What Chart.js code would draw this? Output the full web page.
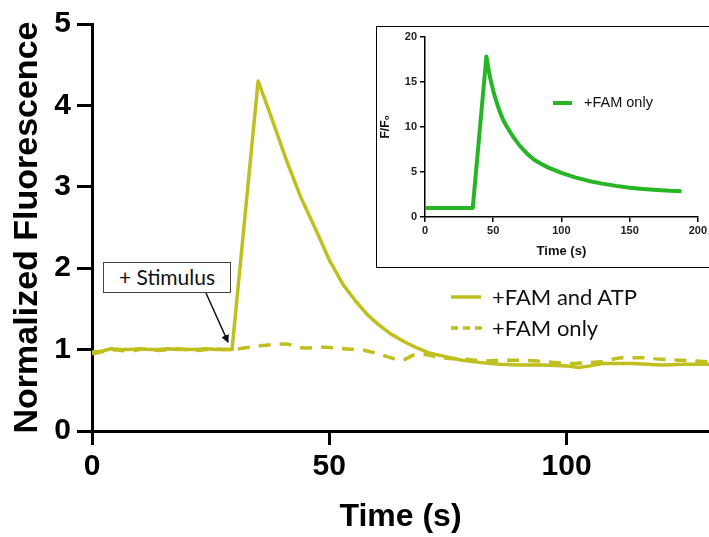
<!DOCTYPE html>
<html>
<head>
<meta charset="utf-8">
<script src="https://cdn.jsdelivr.net/npm/chart.js@4.4.1/dist/chart.umd.min.js"></script>
<style>
  html,body{margin:0;padding:0;background:#fff;}
  #wrap{position:relative;width:709px;height:537px;overflow:hidden;background:#fff;}
  #main{position:absolute;left:0;top:0;}
  #insetBox{position:absolute;left:376px;top:26px;width:333px;height:242px;border:1px solid #000;border-right:none;box-sizing:border-box;background:#fff;}
  #ins{position:absolute;left:0;top:0;}
  .lg{position:absolute;font-family:Lato,"Open Sans",sans-serif;font-size:22px;color:#111;white-space:nowrap;line-height:26px;}
  #stim{position:absolute;left:103px;top:262px;width:128px;height:31px;border:1px solid #444;box-sizing:border-box;background:#fff;font-family:Lato,"Open Sans",sans-serif;font-size:21px;line-height:28px;text-align:center;color:#111;white-space:nowrap;}
  svg{position:absolute;left:0;top:0;}
</style>
</head>
<body>
<div id="wrap">
  <canvas id="main" width="709" height="537"></canvas>
  <div id="insetBox"><canvas id="ins" width="332" height="240"></canvas></div>
  <svg width="709" height="537" style="pointer-events:none">
    <defs>
      <marker id="ah" markerWidth="8" markerHeight="8" refX="7" refY="4" orient="auto" markerUnits="userSpaceOnUse">
        <path d="M0,0 L8,4 L0,8 z" fill="#111"/>
      </marker>
    </defs>
    <line x1="206" y1="293" x2="228" y2="342" stroke="#111" stroke-width="1.5" marker-end="url(#ah)"/>
    <line x1="451" y1="297" x2="481" y2="297" stroke="#bfbf20" stroke-width="3.5"/>
    <line x1="451" y1="328" x2="483" y2="328" stroke="#bfbf20" stroke-width="3.5" stroke-dasharray="7,5"/>
  </svg>
  <div id="stim">+ Stimulus</div>
  <div class="lg" style="left:492px;top:284px;">+FAM and ATP</div>
  <div class="lg" style="left:492px;top:315px;">+FAM only</div>
</div>
<script>
// ---------- Main chart data ----------
const atpTimes = [0,2,4,6,8,10,12,14,16,18,20,22,24,26,28,29.5,35,38,41,44,47.5,50,53,55.5,58,60.5,63,66,68.5,71,74,78,82,86,90,95,100,102.5,105,107.5,110,114,117,120,125,130];
const atpValues = [0.97,0.98,1.01,1.0,1.0,1.01,1.0,1.0,1.01,1.0,1.0,1.0,1.01,1.0,1.0,1.0,4.3,3.82,3.32,2.87,2.43,2.1,1.79,1.6,1.43,1.3,1.19,1.09,1.02,0.96,0.92,0.87,0.84,0.82,0.81,0.81,0.8,0.78,0.8,0.83,0.83,0.83,0.82,0.81,0.82,0.82];

const famTimes = [0,2,4,6,8,10,12,14,16,18,20,22,24,26,28,29.5,32,36,40.6,44.8,49,53,57.5,61.8,65.2,67.7,70,73.6,78.7,83,86,90.5,95.6,101.5,104,107.4,111.7,116,120,124.4,130];
const famValues = [0.95,0.97,1.0,0.99,0.98,1.0,1.01,0.99,1.0,1.01,1.0,0.99,1.0,1.01,1.0,1.0,1.02,1.05,1.07,1.02,1.03,1.01,0.99,0.92,0.87,0.93,0.94,0.9,0.88,0.86,0.87,0.87,0.85,0.83,0.84,0.85,0.9,0.9,0.88,0.87,0.85];

const mainXTicks = [0,50,100];
const mainYTicks = [0,1,2,3,4,5];

// ---------- Inset data ----------
const insetTimes = [0,35,45,47.5,50,52.5,55,57.5,60,65,70,75,80,85,90,100,110,120,130,140,150,160,170,180,188];
const insetValues = [1,1,17.8,15.6,14.0,12.7,11.6,10.7,10.0,8.8,7.8,7.0,6.35,5.9,5.5,4.9,4.4,4.0,3.7,3.45,3.25,3.1,3.0,2.9,2.85];
const insetXTicks = [0,50,100,150,200];
const insetYTicks = [0,5,10,15,20];

const olive = '#bfbf20';
const green = '#25b525';

function pts(xs, ys){ return xs.map((x,i)=>({x:x,y:ys[i]})); }

Chart.defaults.animation = false;
Chart.defaults.font.family = '"Liberation Sans", Arial, sans-serif';

new Chart(document.getElementById('main'), {
  type: 'line',
  data: {
    datasets: [
      {label:'+FAM and ATP', data: pts(atpTimes, atpValues), borderColor: olive, borderWidth: 3.5, borderJoinStyle: 'round', pointRadius: 0, tension: 0, fill:false},
      {label:'+FAM only', data: pts(famTimes, famValues), borderColor: olive, borderWidth: 3.5, borderDash:[12,9], pointRadius: 0, cubicInterpolationMode: 'monotone', fill:false}
    ]
  },
  options: {
    responsive: false,
    devicePixelRatio: 1,
    animation: false,
    layout: {padding: {top: 18, right: 0, left: 0, bottom: 0}},
    plugins: {legend: {display: false}, tooltip: {enabled: false}},
    scales: {
      x: {
        type: 'linear', min: 0, max: 130,
        afterFit: s => { s.height = 106; },
        afterBuildTicks: s => { s.ticks = mainXTicks.map(v => ({value: v})); },
        ticks: {font: {size: 30, weight: 'bold'}, color: '#000', padding: 4, maxRotation: 0, includeBounds:false},
        grid: {drawOnChartArea: false, drawTicks: true, tickLength: 14, color: '#000', lineWidth: 3},
        border: {display: true, color: '#000', width: 3},
        title: {display: true, text: 'Time (s)', font: {size: 32, weight: 'bold'}, color: '#000', padding: {top: 0, bottom: 1}}
      },
      y: {
        type: 'linear', min: 0, max: 5,
        afterFit: s => { s.width = 92; },
        afterBuildTicks: s => { s.ticks = mainYTicks.map(v => ({value: v})); },
        ticks: {font: {size: 30, weight: 'bold'}, color: '#000', padding: 6},
        grid: {drawOnChartArea: false, drawTicks: true, tickLength: 15, color: '#000', lineWidth: 3},
        border: {display: true, color: '#000', width: 3},
        title: {display: true, text: 'Normalized Fluorescence', font: {size: 34, weight: 'bold'}, color: '#000', padding: {top: 7, bottom: 0}}
      }
    }
  }
});

new Chart(document.getElementById('ins'), {
  type: 'line',
  data: {
    datasets: [
      {label:'+FAM only', data: pts(insetTimes, insetValues), borderColor: green, borderWidth: 4, borderJoinStyle: 'round', pointRadius: 0, tension: 0, fill:false}
    ]
  },
  options: {
    responsive: false,
    devicePixelRatio: 1,
    animation: false,
    layout: {padding: {top: 8, right: 9, left: 0, bottom: 0}},
    plugins: {legend: {display: false}, tooltip: {enabled: false}},
    scales: {
      x: {
        type: 'linear', min: 0, max: 200,
        afterFit: s => { s.height = 50; },
        afterBuildTicks: s => { s.ticks = insetXTicks.map(v => ({value: v})); },
        ticks: {font: {size: 11, weight: 'bold'}, color: '#222', padding: 2, maxRotation: 0},
        grid: {drawOnChartArea: false, drawTicks: true, tickLength: 5, color: '#000', lineWidth: 1.5},
        border: {display: true, color: '#000', width: 1.5},
        title: {display: true, text: 'Time (s)', font: {size: 13, weight: 'bold'}, color: '#111', padding: {top: 0, bottom: 8}}
      },
      y: {
        type: 'linear', min: 0, max: 20,
        afterFit: s => { s.width = 48; },
        afterBuildTicks: s => { s.ticks = insetYTicks.map(v => ({value: v})); },
        ticks: {font: {size: 11, weight: 'bold'}, color: '#222', padding: 3},
        grid: {drawOnChartArea: false, drawTicks: true, tickLength: 5, color: '#000', lineWidth: 1.5},
        border: {display: true, color: '#000', width: 1.5},
        title: {display: true, text: 'F/F₀', font: {size: 12, weight: 'bold'}, color: '#111', padding: {top: 1, bottom: 0}}
      }
    }
  },
  plugins: [{
    id: 'insetLegend',
    afterDraw(chart) {
      const c = chart.ctx;
      c.save();
      c.strokeStyle = green; c.lineWidth = 4;
      c.beginPath(); c.moveTo(176, 76); c.lineTo(195, 76); c.stroke();
      c.fillStyle = '#111'; c.font = '14.5px "Liberation Sans", Arial, sans-serif';
      c.textBaseline = 'middle'; c.textAlign = 'left';
      c.fillText('+FAM only', 207, 76);
      c.restore();
    }
  }]
});
</script>
</body>
</html>
